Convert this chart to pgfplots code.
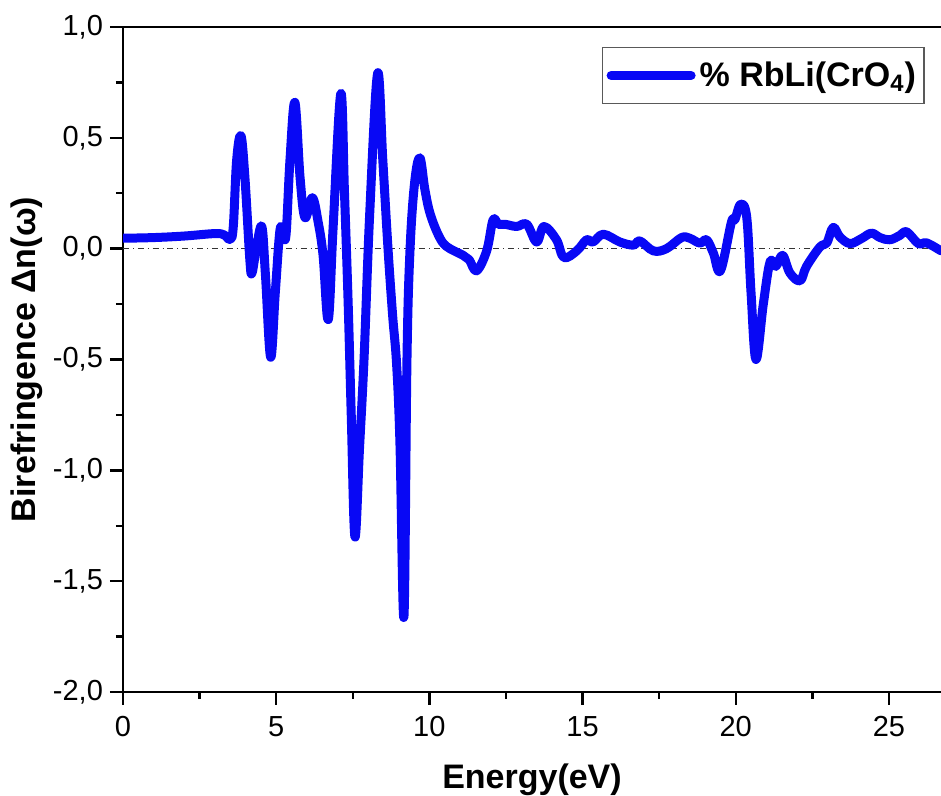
\documentclass[border=0pt]{standalone}
\usepackage{fontspec}
\setmainfont{Liberation Sans}
\usepackage{pgfplots}
\pgfplotsset{compat=1.18}
\definecolor{curveblue}{RGB}{8,8,245}
\begin{document}
\begin{tikzpicture}
\begin{axis}[
  scale only axis, width=409pt, height=332.5pt,
  xmin=0, xmax=26.7, ymin=-2, ymax=1,
  axis x line*=bottom, axis y line*=left,
  axis line style={-, line width=1.3pt},
  xtick={0,5,10,15,20,25}, ytick={-2,-1.5,-1,-0.5,0,0.5,1},
  minor x tick num=1, minor y tick num=1,
  tick align=outside,
  major tick length=6.5pt, minor tick length=3.5pt,
  every tick/.style={black, line width=1.2pt},
  /pgf/number format/assume math mode=true,
  tick label style={font=\fontsize{14.5}{17}\selectfont},
  yticklabel style={/pgf/number format/.cd, fixed, fixed zerofill, precision=1, use comma},
  xticklabel style={yshift=-2pt},
  xlabel={\bfseries Energy(eV)},
  ylabel={\bfseries Birefringence Δn(ω)},
  label style={font=\fontsize{17}{20}\selectfont},
  xlabel style={at={(axis description cs:0.5,-0.1444)}, anchor=base},
  ylabel style={at={(axis description cs:-0.1174,0.5)}, anchor=center},
  legend style={at={(0.98,0.97)}, anchor=north east, draw=gray!70!black, line width=0.7pt,
    font=\bfseries\fontsize{17}{20}\selectfont, inner xsep=2pt, inner ysep=5pt},
  legend cell align=left,
  legend image code/.code={\draw[#1] (2pt,0pt) -- (42pt,0pt);},
  clip=true,
]
\coordinate (sw) at (rel axis cs:0,0);
\coordinate (ne) at (rel axis cs:1,1);
\addplot[black!80, dash dot, line width=0.7pt, forget plot] coordinates {(0,0) (26.7,0)};
\addplot[curveblue, line width=4.5pt, line join=round, line cap=round, smooth, tension=0.6] table {
x y
0 0.047
1 0.050
2 0.057
3 0.068
3.3 0.062
3.5 0.042
3.6 0.10
3.71 0.40
3.85 0.51
3.98 0.32
4.14 -0.05
4.21 -0.11
4.35 0.00
4.53 0.10
4.65 -0.12
4.82 -0.49
4.97 -0.20
5.12 0.08
5.22 0.08
5.32 0.06
5.45 0.40
5.61 0.66
5.78 0.32
5.94 0.14
6.18 0.23
6.37 0.12
6.53 -0.03
6.70 -0.32
6.86 0.10
7.11 0.70
7.23 0.25
7.35 -0.25
7.45 -0.75
7.57 -1.30
7.72 -0.90
7.87 -0.49
8.05 0.15
8.31 0.79
8.48 0.40
8.65 0.00
8.80 -0.30
8.93 -0.52
9.04 -0.88
9.17 -1.66
9.27 -0.49
9.37 0.00
9.52 0.30
9.69 0.41
9.85 0.27
10.02 0.16
10.3 0.06
10.56 0.01
11.1 -0.03
11.3 -0.05
11.54 -0.10
11.87 -0.01
12.08 0.13
12.25 0.11
12.47 0.11
12.85 0.10
13.18 0.11
13.5 0.03
13.74 0.10
14.15 0.04
14.39 -0.04
14.81 -0.01
15.13 0.04
15.34 0.03
15.68 0.065
16.22 0.03
16.66 0.016
16.87 0.035
17.31 -0.01
17.74 0.00
18.23 0.05
18.5 0.047
18.83 0.025
19.05 0.04
19.27 -0.02
19.5 -0.10
19.86 0.12
19.97 0.13
20.16 0.20
20.36 0.14
20.5 -0.20
20.66 -0.50
20.9 -0.25
21.12 -0.06
21.31 -0.08
21.53 -0.03
21.77 -0.11
22.1 -0.145
22.31 -0.08
22.75 0.008
22.97 0.025
23.18 0.096
23.4 0.053
23.73 0.023
24.11 0.046
24.43 0.07
24.71 0.05
25.03 0.04
25.36 0.06
25.58 0.076
25.96 0.023
26.23 0.026
26.7 -0.01
};
\addlegendentry{\% RbLi(CrO\textsubscript{4})}
\end{axis}
\draw[line width=1.3pt] (sw |- ne) -- (ne);
\pgfresetboundingbox
\path ([shift={(-61.5pt,-52pt)}]sw) rectangle ([shift={(0pt,13.5pt)}]ne);
\end{tikzpicture}
\end{document}
